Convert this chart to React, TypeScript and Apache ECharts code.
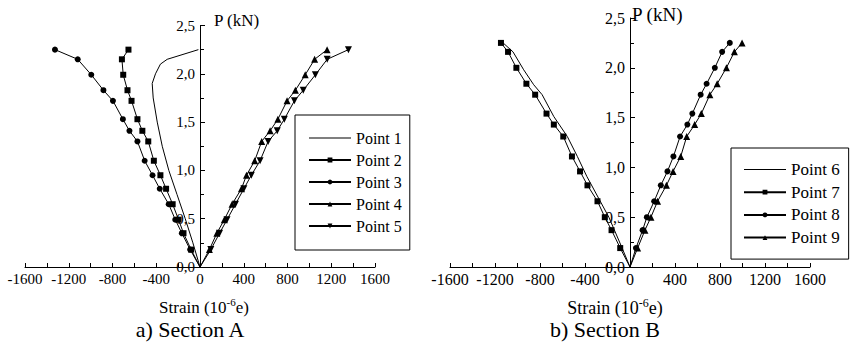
import React, { useEffect, useRef } from "react";
import * as echarts from "echarts";

const FONT = "Liberation Serif";

// ---- Section A ----
const loadA = [0, 0.18, 0.35, 0.49, 0.65, 0.81, 0.95, 1.1, 1.3, 1.41, 1.53, 1.72, 1.83, 1.99, 2.15, 2.25];
const point2Strain = [0, -81, -151, -196, -250, -310, -362, -422, -473, -527, -572, -626, -663, -702, -714, -654];
const point3Strain = [0, -90, -166, -226, -286, -368, -434, -506, -572, -645, -705, -796, -883, -994, -1118, -1326];
const point4Strain = [0, 86, 154, 222, 293, 379, 425, 500, 564, 641, 712, 796, 872, 962, 1048, 1162];
const point5Strain = [0, 99, 179, 247, 324, 401, 469, 549, 623, 706, 771, 863, 944, 1055, 1163, 1357];
const point1Load = [0, 0.25, 0.5, 0.75, 1.0, 1.25, 1.5, 1.75, 1.9, 2.0, 2.1, 2.15, 2.25];
const point1Strain = [0, -65, -135, -210, -285, -345, -391, -428, -437, -407, -362, -300, -15];

// ---- Section B ----
const loadB = [0, 0.19, 0.37, 0.5, 0.66, 0.82, 0.96, 1.11, 1.31, 1.43, 1.54, 1.73, 1.84, 2.0, 2.16, 2.25];
const point7Strain = [0, -87, -164, -224, -289, -378, -444, -516, -593, -677, -742, -843, -921, -1010, -1084, -1147];
const point8Strain = [0, 53, 112, 150, 215, 274, 333, 386, 445, 510, 554, 628, 681, 754, 819, 887];
const point9Strain = [0, 68, 133, 186, 245, 324, 383, 451, 504, 575, 634, 710, 775, 857, 928, 996];
const point6Load = [0, 0.19, 0.5, 0.91, 1.11, 1.31, 1.51, 1.73, 1.83, 1.98, 2.16, 2.26];
const point6Strain = [0, -70, -188, -384, -468, -557, -677, -781, -856, -945, -1040, -1138];

const LINE_ICON = "path://M0,0 L42,0 L42,1 L0,1 Z";
const namesA = [{ name: "Point 1", icon: LINE_ICON }, "Point 2", "Point 3", "Point 4", "Point 5"];
const namesB = [{ name: "Point 6", icon: LINE_ICON }, "Point 7", "Point 8", "Point 9"];

const pairs = (xs: number[], ys: number[]) =>
  xs.map((x, i) => (i === 0 ? { value: [x, ys[i]], symbol: "none" } : { value: [x, ys[i]] }));

const lineSeries = (name: string, idx: number, xs: number[], ys: number[]) => ({
  name,
  type: "line",
  xAxisIndex: idx,
  yAxisIndex: idx,
  data: xs.map((x, i) => [x, ys[i]]),
  symbol: "none",
  showSymbol: false,
  lineStyle: { color: "#000", width: 1 },
  itemStyle: { color: "#000" },
});

const markerSeries = (
  name: string,
  idx: number,
  xs: number[],
  ys: number[],
  symbol: string,
  size: number,
  rotate = 0
) => ({
  name,
  type: "line",
  xAxisIndex: idx,
  yAxisIndex: idx,
  data: pairs(xs, ys),
  symbol,
  symbolSize: size,
  symbolRotate: rotate,
  lineStyle: { color: "#000", width: 1 },
  itemStyle: { color: "#000", borderWidth: 0 },
});

const makeX = (idx: number, fs: number) => ({
  gridIndex: idx,
  type: "value",
  min: -1600,
  max: 1600,
  interval: 400,
  axisLine: { show: true, onZero: false, lineStyle: { color: "#000", width: 1 } },
  axisTick: { show: true, inside: true, length: 4, lineStyle: { color: "#000", width: 1 } },
  minorTick: { show: true, splitNumber: 2, length: 4, lineStyle: { color: "#000", width: 1 } },
  axisLabel: {
    color: "#000",
    fontSize: fs,
    fontFamily: FONT,
    margin: 4,
    formatter: (v: number) => String(v),
  },
  splitLine: { show: false },
  minorSplitLine: { show: false },
});

const makeY = (idx: number, fs: number, offset: number) => ({
  gridIndex: idx,
  type: "value",
  position: "left",
  offset,
  min: 0,
  max: 2.5,
  interval: 0.5,
  axisLine: { show: true, onZero: false, lineStyle: { color: "#000", width: 1 } },
  axisTick: { show: true, inside: true, length: 5, lineStyle: { color: "#000", width: 1 } },
  minorTick: { show: true, splitNumber: 2, length: 4, lineStyle: { color: "#000", width: 1 } },
  axisLabel: {
    color: "#000",
    fontSize: fs,
    fontFamily: FONT,
    margin: 5,
    formatter: (v: number) => v.toFixed(1).replace(".", ","),
  },
  splitLine: { show: false },
});

const strainText = (x: number, y: number, fs: number) => ({
  type: "text",
  x,
  y,
  style: {
    text: "{a|Strain (10}{s|-6}{a|e)}",
    align: "center",
    verticalAlign: "middle",
    fill: "#000",
    rich: {
      a: { fontSize: fs, fontFamily: FONT, fill: "#000", lineHeight: fs + 2, verticalAlign: "bottom" },
      s: { fontSize: Math.round(fs * 0.65), fontFamily: FONT, fill: "#000", verticalAlign: "top" },
    },
  },
});

const plainText = (x: number, y: number, text: string, fs: number, align = "left") => ({
  type: "text",
  x,
  y,
  style: {
    text,
    align,
    verticalAlign: "middle",
    fill: "#000",
    font: `${fs}px ${FONT}`,
  },
});

export default function App() {
  const ref = useRef<HTMLDivElement>(null);
  useEffect(() => {
    if (!ref.current) return;
    const chart = echarts.init(ref.current, null, { renderer: "svg" });
    const option = {
      animation: false,
      backgroundColor: "#fff",
      textStyle: { fontFamily: FONT },
      grid: [
        { left: 25, top: 25.5, width: 350, height: 241.5 },
        { left: 450, top: 18, width: 360, height: 249 },
      ],
      xAxis: [makeX(0, 15), makeX(1, 16)],
      yAxis: [makeY(0, 15, -175), makeY(1, 16, -180)],
      legend: [
        {
          data: namesA,
          orient: "vertical",
          left: 295,
          top: 115,
          padding: [15, 8, 16, 13],
          itemWidth: 42,
          itemHeight: 6,
          itemGap: 6,
          borderColor: "#000",
          borderWidth: 1,
          textStyle: { color: "#000", fontSize: 16, fontFamily: FONT, lineHeight: 16 },
        },
        {
          data: namesB,
          orient: "vertical",
          left: 731,
          top: 148,
          padding: [13, 9, 13, 12],
          itemWidth: 42,
          itemHeight: 6,
          itemGap: 5.7,
          borderColor: "#000",
          borderWidth: 1,
          textStyle: { color: "#000", fontSize: 17, fontFamily: FONT, lineHeight: 17 },
        },
      ],
      series: [
        lineSeries("Point 1", 0, point1Strain, point1Load),
        markerSeries("Point 2", 0, point2Strain, loadA, "rect", 6),
        markerSeries("Point 3", 0, point3Strain, loadA, "circle", 6),
        markerSeries("Point 4", 0, point4Strain, loadA, "triangle", 7),
        markerSeries("Point 5", 0, point5Strain, loadA, "triangle", 7, 180),
        lineSeries("Point 6", 1, point6Strain, point6Load),
        markerSeries("Point 7", 1, point7Strain, loadB, "rect", 6),
        markerSeries("Point 8", 1, point8Strain, loadB, "circle", 6),
        markerSeries("Point 9", 1, point9Strain, loadB, "triangle", 7),
      ],
      graphic: [
        plainText(214, 20, "P (kN)", 17),
        plainText(632, 14, "P (kN)", 19),
        strainText(204, 306, 17),
        strainText(615, 307, 18),
        plainText(190, 329, "a) Section A", 22, "center"),
        plainText(605, 329, "b) Section B", 22, "center"),
      ],
    };
    chart.setOption(option as any);
    return () => chart.dispose();
  }, []);
  return <div ref={ref} style={{ position: "fixed", left: 0, top: 0, width: 850, height: 347 }} />;
}
